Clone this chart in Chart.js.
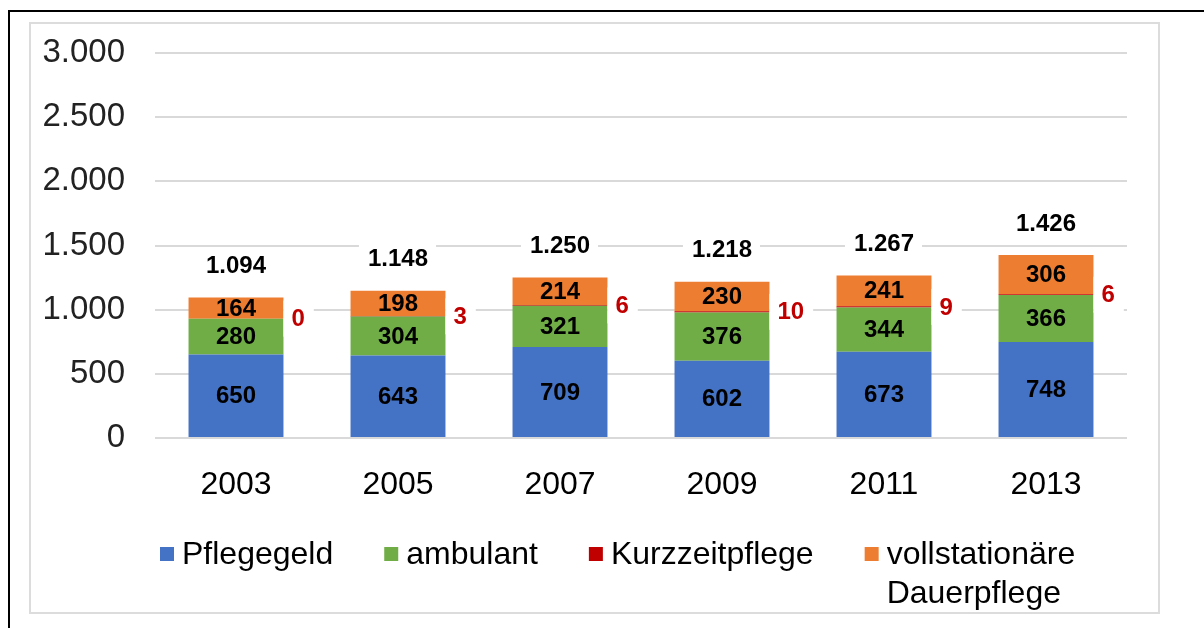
<!DOCTYPE html>
<html>
<head>
<meta charset="utf-8">
<script src="https://cdn.jsdelivr.net/npm/chart.js@4.4.0/dist/chart.umd.min.js"></script>
<style>
	html, body { margin: 0; padding: 0; background: #fff; }
	#wrap { position: relative; width: 1204px; height: 628px; overflow: hidden; }
	#outer { position: absolute; left: 8px; top: 10px; width: 1300px; height: 700px; border-left: 2px solid #000; border-top: 2px solid #000; }
	#inner { position: absolute; left: 29px; top: 22px; width: 1127px; height: 588px; border: 2px solid #dcdcdc; }
	canvas { position: absolute; left: 0; top: 0; }
</style>
</head>
<body>
<div id="wrap">
	<div id="outer"></div>
	<div id="inner"></div>
	<canvas id="out" width="1204" height="628"></canvas>
</div>
<script>
const years = ["2003", "2005", "2007", "2009", "2011", "2013"];
const pflegegeld = [650, 643, 709, 602, 673, 748];
const ambulant = [280, 304, 321, 376, 344, 366];
const kurzzeitpflege = [0, 3, 6, 10, 9, 6];
const dauerpflege = [164, 198, 214, 230, 241, 306];
const totals = [1094, 1148, 1250, 1218, 1267, 1426];

const seriesNames = ["Pflegegeld", "ambulant", "Kurzzeitpflege", ["vollstationäre", "Dauerpflege"]];
const seriesColors = ["#4472C4", "#70AD47", "#C00000", "#ED7D31"];

const fontFamily = "'Liberation Sans', Arial, sans-serif";

function formatDE(v) {
	return String(v).replace(/\B(?=(\d{3})+(?!\d))/g, ".");
}

function labelBox(ctx, text, x, y, align) {
	const w = ctx.measureText(text).width;
	let left = align === "left" ? x - 8 : x - w / 2 - 9;
	ctx.fillStyle = "#fff";
	ctx.fillRect(left, y - 18, w + 17, 36);
}

// Zahlen in und an den Balken
const valueLabels = {
	id: "valueLabels",
	afterDatasetsDraw(chart) {
		const ctx = chart.ctx;
		ctx.save();
		ctx.font = "bold 24px " + fontFamily;
		ctx.textBaseline = "middle";
		chart.data.datasets.forEach(function(ds, di) {
			const meta = chart.getDatasetMeta(di);
			meta.data.forEach(function(el, i) {
				const text = formatDE(ds.data[i]);
				const cy = (el.y + el.base) / 2;
				if (di === 2) {
					const x = el.x + el.width / 2 + 8;
					labelBox(ctx, text, x, cy, "left");
					ctx.fillStyle = "#C00000";
					ctx.textAlign = "left";
					ctx.fillText(text, x, cy + 1);
				} else {
					ctx.fillStyle = "#000";
					ctx.textAlign = "center";
					ctx.fillText(text, el.x, cy + 1);
				}
			});
		});
		// Summen oberhalb der Balken
		const top = chart.getDatasetMeta(3);
		top.data.forEach(function(el, i) {
			const text = formatDE(totals[i]);
			const cy = el.y - 32;
			labelBox(ctx, text, el.x, cy, "center");
			ctx.fillStyle = "#000";
			ctx.textAlign = "center";
			ctx.fillText(text, el.x, cy + 1);
		});
		ctx.restore();
	}
};

// Legende von Hand, weil der letzte Eintrag zweizeilig ist
const customLegend = {
	id: "customLegend",
	afterDraw(chart) {
		const ctx = chart.ctx;
		ctx.save();
		ctx.font = "32px " + fontFamily;
		ctx.textBaseline = "middle";
		ctx.textAlign = "left";
		let x = 160;
		const y = 555;
		chart.data.datasets.forEach(function(ds, di) {
			const name = seriesNames[di];
			const lines = Array.isArray(name) ? name : [name];
			ctx.fillStyle = ds.backgroundColor;
			ctx.fillRect(x, y - 8, 14, 14);
			ctx.fillStyle = "#000";
			let maxW = 0;
			lines.forEach(function(line, li) {
				ctx.fillText(line, x + 22, y + li * 39);
				maxW = Math.max(maxW, ctx.measureText(line).width);
			});
			x += 22 + maxW + 51;
		});
		ctx.restore();
	}
};

const canvasCtx = document.getElementById("out").getContext("2d");

const chartConfig = {
	type: "bar",
	data: {
		labels: years,
		datasets: [
			{ label: "Pflegegeld", data: pflegegeld, backgroundColor: seriesColors[0] },
			{ label: "ambulant", data: ambulant, backgroundColor: seriesColors[1] },
			{ label: "Kurzzeitpflege", data: kurzzeitpflege, backgroundColor: seriesColors[2] },
			{ label: "vollstationäre Dauerpflege", data: dauerpflege, backgroundColor: seriesColors[3] }
		]
	},
	options: {
		responsive: false,
		animation: false,
		layout: { padding: { left: 0, right: 77, top: 53, bottom: 0 } },
		datasets: {
			bar: { categoryPercentage: 1, barPercentage: 0.586, borderWidth: 0 }
		},
		plugins: {
			legend: { display: false },
			tooltip: { enabled: false }
		},
		scales: {
			x: {
				stacked: true,
				grid: { display: false },
				border: { display: false },
				ticks: { color: "#000", padding: 20, font: { family: fontFamily, size: 32 } },
				afterFit: function(scale) { scale.height = 190; }
			},
			y: {
				stacked: true,
				min: 0,
				max: 3000,
				border: { display: false },
				grid: { color: "#d9d9d9", lineWidth: 2, drawTicks: false },
				ticks: {
					stepSize: 500,
					padding: 30,
					color: "#222",
					font: { family: fontFamily, size: 33 },
					callback: function(v) { return formatDE(v); }
				},
				afterFit: function(scale) { scale.width = 155; }
			}
		}
	},
	plugins: [valueLabels, customLegend]
};

window.chart = new Chart(canvasCtx, chartConfig);
</script>
</body>
</html>
